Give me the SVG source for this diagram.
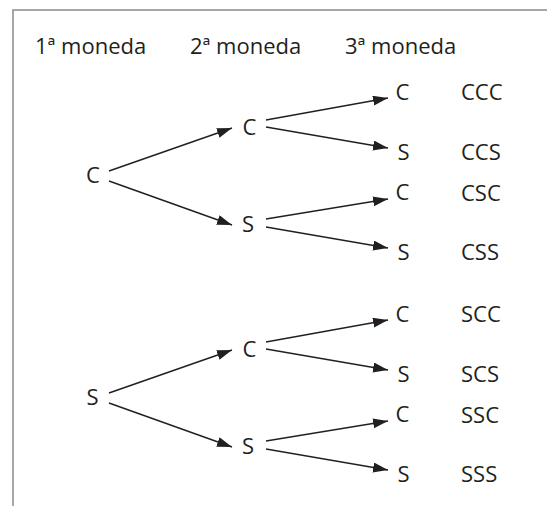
<svg xmlns="http://www.w3.org/2000/svg" width="547" height="506" viewBox="0 0 547 506">
<style>
text{font-family:"Open Sans","Noto Sans","Liberation Sans",sans-serif;font-size:22px;fill:#231f20}
.n{text-anchor:middle}
.e{stroke:#231f20;stroke-width:1.4;fill:none;marker-end:url(#ah)}
.frame{stroke:#8a8a8a;stroke-width:1.5;fill:none}
</style>
<defs>
<marker id="ah" markerUnits="userSpaceOnUse" markerWidth="16" markerHeight="11" refX="15" refY="5" orient="auto">
<path d="M0,0 L15,5 L0,10 z" fill="#231f20"/>
</marker>
</defs>
<g id="frame"><path class="frame" d="M13,506 V10 H547"/></g>
<g id="headers">
<text x="35" y="54">1ª moneda</text>
<text x="190" y="54">2ª moneda</text>
<text x="345" y="54">3ª moneda</text>
</g>
<g id="connectors">
<line class="e" x1="109" y1="171" x2="232" y2="128"/>
<line class="e" x1="109" y1="181" x2="232" y2="225"/>
<line class="e" x1="266" y1="120" x2="388" y2="98"/>
<line class="e" x1="266" y1="127" x2="388" y2="148"/>
<line class="e" x1="266" y1="219" x2="388" y2="199"/>
<line class="e" x1="266" y1="227" x2="388" y2="248"/>
<line class="e" x1="109" y1="393" x2="232" y2="350"/>
<line class="e" x1="109" y1="403" x2="232" y2="447"/>
<line class="e" x1="266" y1="342" x2="388" y2="320"/>
<line class="e" x1="266" y1="349" x2="388" y2="370"/>
<line class="e" x1="266" y1="441" x2="388" y2="421"/>
<line class="e" x1="266" y1="449" x2="388" y2="470"/>
</g>
<g id="n-C"><text class="n" x="93" y="183">C</text></g>
<g id="n-CC"><text class="n" x="249.5" y="135">C</text></g>
<g id="n-CS"><text class="n" x="248" y="232">S</text></g>
<g id="n-CCC"><text class="n" x="402.5" y="100">C</text><text x="461" y="100">CCC</text></g>
<g id="n-CCS"><text class="n" x="403.5" y="160">S</text><text x="461" y="160">CCS</text></g>
<g id="n-CSC"><text class="n" x="402.5" y="200">C</text><text x="461" y="201">CSC</text></g>
<g id="n-CSS"><text class="n" x="403.5" y="260">S</text><text x="461" y="260">CSS</text></g>
<g id="n-S"><text class="n" x="92.5" y="405">S</text></g>
<g id="n-SC"><text class="n" x="249.5" y="357">C</text></g>
<g id="n-SS"><text class="n" x="248" y="454">S</text></g>
<g id="n-SCC"><text class="n" x="402.5" y="322">C</text><text x="461" y="322">SCC</text></g>
<g id="n-SCS"><text class="n" x="403.5" y="382">S</text><text x="461" y="382">SCS</text></g>
<g id="n-SSC"><text class="n" x="402.5" y="422">C</text><text x="461" y="423">SSC</text></g>
<g id="n-SSS"><text class="n" x="403.5" y="482">S</text><text x="461" y="482">SSS</text></g>
</svg>
